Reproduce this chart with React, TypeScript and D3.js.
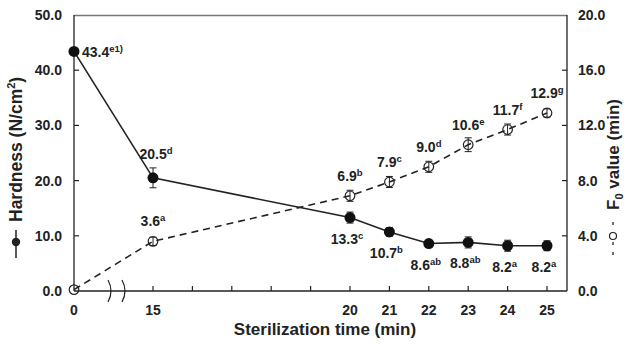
import React, { useEffect, useRef } from "react";
import * as d3 from "d3";

// sterilization time (min)
const times = [0, 15, 20, 21, 22, 23, 24, 25];
const hardness = [43.4, 20.5, 13.3, 10.7, 8.6, 8.8, 8.2, 8.2];
const hardnessErr = [0.5, 1.8, 1.0, 0.8, 0.6, 1.0, 1.0, 0.9];
const hardnessSup = ["e1)", "d", "c", "b", "ab", "ab", "a", "a"];
const f0 = [0.1, 3.6, 6.9, 7.9, 9.0, 10.6, 11.7, 12.9];
const f0Err = [0, 0.3, 0.4, 0.4, 0.4, 0.5, 0.4, 0.3];
const f0Sup = ["", "a", "b", "c", "d", "e", "f", "g"];
const xTicks = [0, 15, 16, 17, 18, 19, 20, 21, 22, 23, 24, 25];
const xTickLabels = [0, 15, 20, 21, 22, 23, 24, 25];
const leftTicks = [0, 10, 20, 30, 40, 50];
const rightTicks = [0, 4, 8, 12, 16, 20];

const W = 627, H = 344;
const FONT = "'Liberation Sans', Arial, sans-serif";

export default function App() {
  const svgRef = useRef<SVGSVGElement>(null);

  useEffect(() => {
    const svg = d3.select(svgRef.current);
    svg.selectAll("*").remove();

    const left = 74, right = 567, top = 15, bottom = 291;

    const x = d3.scaleLinear().domain([0, 15, 25]).range([left, 153, 547]);
    const yL = d3.scaleLinear().domain([0, 50]).range([bottom, top]);
    const yR = d3.scaleLinear().domain([0, 20]).range([bottom, top]);

    const g = svg.append("g").style("font-family", FONT).style("font-weight", "bold");

    // frame
    g.append("line").attr("x1", left).attr("x2", right).attr("y1", top + 0.5).attr("y2", top + 0.5)
      .attr("stroke", "#777").attr("stroke-width", 1.5);
    g.append("line").attr("x1", left).attr("x2", left).attr("y1", top).attr("y2", bottom)
      .attr("stroke", "#222").attr("stroke-width", 1.3);
    g.append("line").attr("x1", right).attr("x2", right).attr("y1", top).attr("y2", bottom)
      .attr("stroke", "#222").attr("stroke-width", 1.3);
    g.append("line").attr("x1", left).attr("x2", right).attr("y1", bottom).attr("y2", bottom)
      .attr("stroke", "#222").attr("stroke-width", 1.3);

    // axis break marks
    [110, 124].forEach(bx => {
      g.append("path")
        .attr("d", `M${bx - 2},${bottom - 11} Q${bx + 4},${bottom} ${bx - 2},${bottom + 11}`)
        .attr("fill", "none").attr("stroke", "#222").attr("stroke-width", 1.2);
    });

    // x ticks
    xTicks.filter(t => t > 0).forEach(t => {
      g.append("line").attr("x1", x(t)).attr("x2", x(t)).attr("y1", bottom).attr("y2", bottom - 5)
        .attr("stroke", "#222").attr("stroke-width", 1.2);
    });
    xTickLabels.forEach(t => {
      g.append("text").attr("x", x(t)).attr("y", bottom + 24).attr("text-anchor", "middle")
        .style("font-size", "14px").attr("fill", "#222").text(t);
    });

    // left ticks
    leftTicks.forEach(t => {
      if (t > 0 && t < 50) {
        g.append("line").attr("x1", left).attr("x2", left + 5).attr("y1", yL(t)).attr("y2", yL(t))
          .attr("stroke", "#222").attr("stroke-width", 1.2);
      }
      g.append("text").attr("x", 62).attr("y", yL(t) + 5).attr("text-anchor", "end")
        .style("font-size", "14px").attr("fill", "#222").text(t.toFixed(1));
    });

    // right ticks
    rightTicks.forEach(t => {
      if (t > 0 && t < 20) {
        g.append("line").attr("x1", right).attr("x2", right - 5).attr("y1", yR(t)).attr("y2", yR(t))
          .attr("stroke", "#222").attr("stroke-width", 1.2);
      }
      g.append("text").attr("x", 578).attr("y", yR(t) + 5).attr("text-anchor", "start")
        .style("font-size", "14px").attr("fill", "#222").text(t.toFixed(1));
    });

    // x title
    g.append("text").attr("x", 325).attr("y", 335).attr("text-anchor", "middle")
      .style("font-size", "17px").attr("fill", "#222").text("Sterilization time (min)");

    // left y title with legend symbol
    const lt = g.append("g").attr("transform", "translate(22,150) rotate(-90)");
    lt.append("line").attr("x1", -108).attr("x2", -80).attr("y1", -6).attr("y2", -6)
      .attr("stroke", "#222").attr("stroke-width", 1.5);
    lt.append("circle").attr("cx", -92).attr("cy", -6).attr("r", 4.2).attr("fill", "#222");
    const ltt = lt.append("text").attr("x", -72).attr("y", 0).attr("text-anchor", "start")
      .style("font-size", "17.5px").attr("fill", "#222");
    ltt.append("tspan").text("Hardness (N/cm");
    ltt.append("tspan").attr("dy", -7).style("font-size", "11px").text("2");
    ltt.append("tspan").attr("dy", 7).text(")");

    // right y title with legend symbol
    const rt = g.append("g").attr("transform", "translate(619,150) rotate(-90)");
    rt.append("line").attr("x1", -105).attr("x2", -67).attr("y1", -6).attr("y2", -6)
      .attr("stroke", "#222").attr("stroke-width", 1.3).attr("stroke-dasharray", "3,7");
    rt.append("circle").attr("cx", -86).attr("cy", -6).attr("r", 3.5).attr("fill", "white")
      .attr("stroke", "#222").attr("stroke-width", 1.2);
    const rtt = rt.append("text").attr("x", -60).attr("y", 0).attr("text-anchor", "start")
      .style("font-size", "17px").attr("fill", "#222");
    rtt.append("tspan").text("F");
    rtt.append("tspan").attr("dy", 4).style("font-size", "11px").text("0");
    rtt.append("tspan").attr("dy", -4).text(" value (min)");

    const idx = d3.range(times.length);

    // F0 series (dashed)
    g.append("path")
      .attr("d", d3.line<number>().x(i => x(times[i])).y(i => yR(f0[i]))(idx))
      .attr("fill", "none").attr("stroke", "#222").attr("stroke-width", 1.6)
      .attr("stroke-dasharray", "7,5");
    idx.forEach(i => {
      if (f0Err[i] > 0) {
        const cx = x(times[i]);
        g.append("line").attr("x1", cx).attr("x2", cx).attr("y1", yR(f0[i] + f0Err[i])).attr("y2", yR(f0[i] - f0Err[i]))
          .attr("stroke", "#222").attr("stroke-width", 1);
        [f0[i] + f0Err[i], f0[i] - f0Err[i]].forEach(v => {
          g.append("line").attr("x1", cx - 3.5).attr("x2", cx + 3.5).attr("y1", yR(v)).attr("y2", yR(v))
            .attr("stroke", "#222").attr("stroke-width", 1);
        });
      }
      g.append("circle").attr("cx", x(times[i])).attr("cy", yR(f0[i])).attr("r", 4.8)
        .attr("fill", "none").attr("stroke", "#222").attr("stroke-width", 1.2);
    });

    // Hardness series (solid)
    g.append("path")
      .attr("d", d3.line<number>().x(i => x(times[i])).y(i => yL(hardness[i]))(idx))
      .attr("fill", "none").attr("stroke", "#222").attr("stroke-width", 1.6);
    idx.forEach(i => {
      const cx = x(times[i]);
      g.append("line").attr("x1", cx).attr("x2", cx)
        .attr("y1", yL(hardness[i] + hardnessErr[i])).attr("y2", yL(hardness[i] - hardnessErr[i]))
        .attr("stroke", "#222").attr("stroke-width", 1);
      [hardness[i] + hardnessErr[i], hardness[i] - hardnessErr[i]].forEach(v => {
        g.append("line").attr("x1", cx - 3.5).attr("x2", cx + 3.5).attr("y1", yL(v)).attr("y2", yL(v))
          .attr("stroke", "#222").attr("stroke-width", 1);
      });
      g.append("circle").attr("cx", cx).attr("cy", yL(hardness[i])).attr("r", 5.5).attr("fill", "#111");
    });

    const label = (px: number, py: number, val: string, sup: string, anchor: string) => {
      const t = g.append("text").attr("x", px).attr("y", py).attr("text-anchor", anchor)
        .style("font-size", "14px").attr("fill", "#222");
      t.append("tspan").text(val);
      if (sup) t.append("tspan").attr("dy", -5).style("font-size", "9.5px").text(sup);
    };

    // hardness labels
    idx.forEach(i => {
      const px = x(times[i]), py = yL(hardness[i]);
      if (i === 0) label(px + 8, py + 6, hardness[i].toFixed(1), hardnessSup[i], "start");
      else if (i === 1) label(px + 3, py - 19, hardness[i].toFixed(1), hardnessSup[i], "middle");
      else label(px - 3, py + 26, hardness[i].toFixed(1), hardnessSup[i], "middle");
    });

    // F0 labels
    idx.forEach(i => {
      if (i === 0) return;
      label(x(times[i]), yR(f0[i]) - 15, f0[i].toFixed(1), f0Sup[i], "middle");
    });
  }, []);

  return (
    <svg ref={svgRef} width={W} height={H}
      style={{ position: "absolute", left: 0, top: 0, background: "white" }} />
  );
}
